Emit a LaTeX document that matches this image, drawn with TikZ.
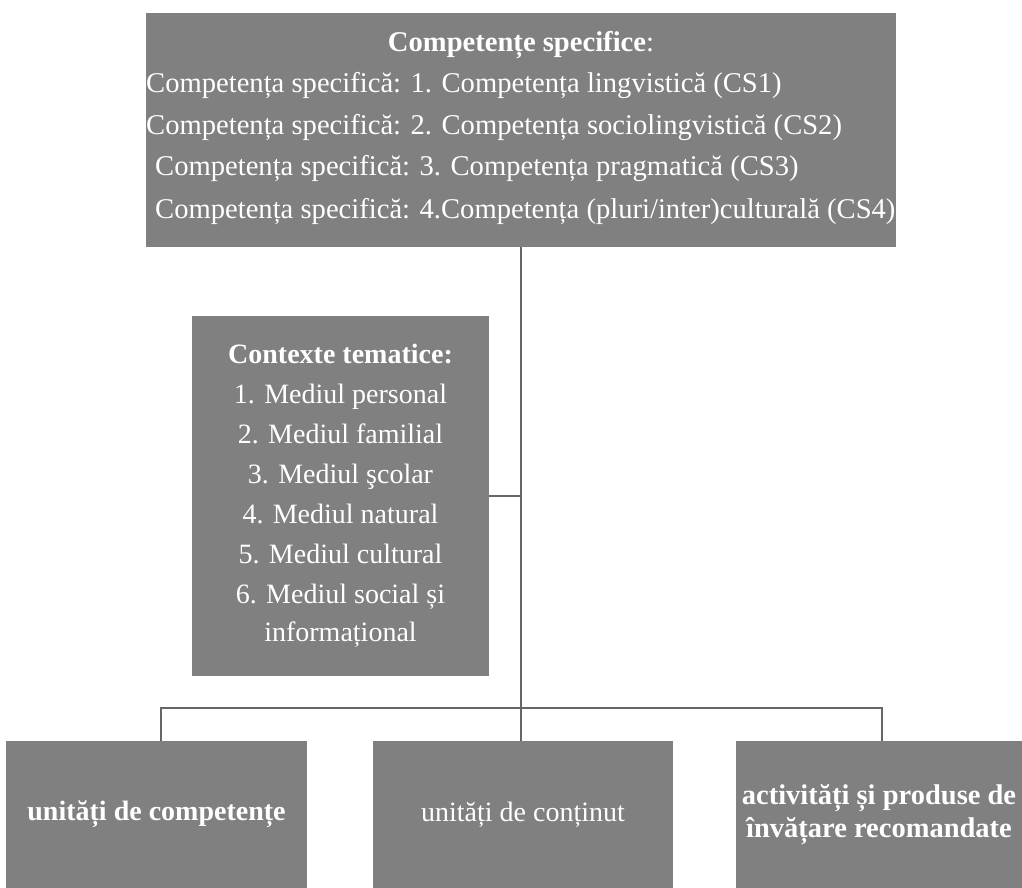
\documentclass[tikz,border=0pt]{standalone}
\usepackage{fontspec}
\setmainfont{Liberation Serif}
\definecolor{boxgray}{HTML}{808080}
\definecolor{linegray}{HTML}{666666}
\begin{document}
\begin{tikzpicture}[x=1pt,y=-1pt,
  gbox/.style={fill=boxgray, draw=none, inner sep=0pt, text=white, align=center,
    font=\fontsize{28}{40}\selectfont},
  txt/.style={inner sep=0pt, text=white, font=\fontsize{28.6}{40}\selectfont},
  conn/.style={draw=linegray, line width=2.8pt}]
\useasboundingbox (0,0) rectangle (1022,888);
% top box
\node[gbox, minimum width=750pt, minimum height=234pt] (T) at (521,130) {};
\node[txt] (T0) at (521,45) {\textbf{Competențe specifice}:};
\node[txt, anchor=west] (T1) at (146,86) {Competența specifică: 1. Competența lingvistică (CS1)};
\node[txt, anchor=west] (T2) at (146,128) {Competența specifică: 2. Competența sociolingvistică (CS2)};
\node[txt, anchor=west] (T3) at (155,169) {Competența specifică: 3. Competența pragmatică (CS3)};
\node[txt, anchor=west] (T4) at (155,211) {Competența specifică: 4.Competența (pluri/inter)culturală (CS4)};
% middle box
\node[gbox, minimum width=297pt, minimum height=360pt] (M) at (340.5,496) {\textbf{Contexte tematice:}\\
1. Mediul personal\\ 2. Mediul familial\\ 3. Mediul şcolar\\ 4. Mediul natural\\ 5. Mediul cultural\\
6. Mediul social și\\[-2pt] informațional};
% bottom boxes
\node[gbox, minimum width=301pt, minimum height=147pt] (B1) at (156.5,814.5) {\textbf{unități de competențe}};
\node[gbox, minimum width=300pt, minimum height=147pt] (B2) at (523,814.5) {unități de conținut};
\node[gbox, minimum width=294pt, minimum height=147pt, font=\fontsize{28.5}{33}\selectfont] (B3) at (883,814.5) {\hspace*{-8pt}\textbf{activități și produse de}\\ \hspace*{-8pt}\textbf{învățare recomandate}};
% connectors
\coordinate (J) at (521,708);
\coordinate (d1) at (161,708);
\coordinate (d3) at (882,708);
\draw[conn] (T.south -| J) -- (J) -- (J |- B2.north);
\draw[conn] (M.east) -- (M.east -| J);
\draw[conn] (d1 |- B1.north) -- (d1) -- (d3) -- (d3 |- B3.north);
\end{tikzpicture}
\end{document}
